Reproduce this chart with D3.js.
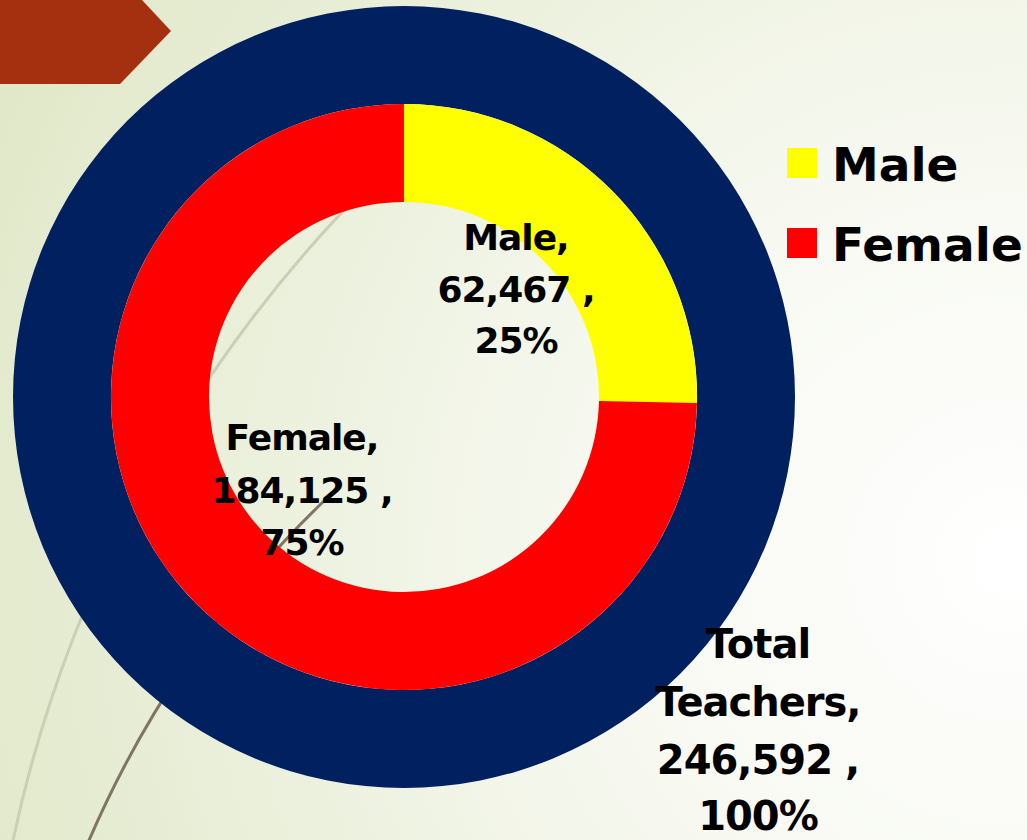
<!DOCTYPE html>
<html>
<head>
<meta charset="utf-8">
<script src="https://cdn.jsdelivr.net/npm/d3@7"></script>
<style>
  html, body { margin: 0; padding: 0; background: #fff; }
  svg { display: block; }
  text { font-family: "DejaVu Sans", sans-serif; font-weight: bold; fill: #000; }
</style>
</head>
<body>
<svg id="chart" width="1027" height="840"></svg>
<script>
// ---- data ----
const categories = ["Male", "Female"];
const teacherCounts = [62467, 184125];
const totalCategory = ["Total Teachers"];
const totalCounts = [246592];
const innerColors = ["#ffff00", "#ff0000"];
const outerColors = ["#002060"];

const W = 1027, H = 840;
const svg = d3.select("#chart");

// ---- background ----
const defs = svg.append("defs");
const rg = defs.append("radialGradient")
  .attr("id", "bg").attr("gradientUnits", "userSpaceOnUse")
  .attr("cx", 1010).attr("cy", 560).attr("r", 1150);
rg.append("stop").attr("offset", "0").attr("stop-color", "#ffffff");
rg.append("stop").attr("offset", "0.35").attr("stop-color", "#f7f9f1");
rg.append("stop").attr("offset", "1").attr("stop-color", "#dfe7c6");
svg.append("rect").attr("width", W).attr("height", H).attr("fill", "url(#bg)");

// decorative slide arcs
svg.append("path").attr("d", "M 12 845 A 1316 1316 0 0 1 450 110")
  .attr("fill", "none").attr("stroke", "#cbcfb4").attr("stroke-width", 3);
svg.append("path").attr("d", "M 87 845 A 1049 1049 0 0 1 325 500")
  .attr("fill", "none").attr("stroke", "#7e7660").attr("stroke-width", 3);

// arrow shape top-left
svg.append("path").attr("d", "M0 0 L142 0 L171 31 L120 84 L0 84 Z").attr("fill", "#a5300f");

// ---- doughnut ----
const cx = 404, cy = 397;
const g = svg.append("g").attr("transform", `translate(${cx},${cy})`);
const pie = d3.pie().sort(null).value(d => d);

const outerArc = d3.arc().innerRadius(293).outerRadius(391);
g.selectAll("path.outer").data(pie(totalCounts)).join("path")
  .attr("class", "outer").attr("d", outerArc)
  .attr("fill", (d, i) => outerColors[i]);

const innerArc = d3.arc().innerRadius(195).outerRadius(293);
g.selectAll("path.inner").data(pie(teacherCounts)).join("path")
  .attr("class", "inner").attr("d", innerArc)
  .attr("fill", (d, i) => innerColors[i]);

// ---- data labels ----
const fmt = d3.format(",");
const total = d3.sum(teacherCounts);
const pct = v => Math.round(v / total * 100) + "%";

function label(lines, x, ys, size) {
  const t = svg.append("text").attr("text-anchor", "middle")
    .style("font-size", size + "px").style("letter-spacing", "-1px");
  lines.forEach((s, i) => t.append("tspan").attr("x", x).attr("y", ys[i]).text(s));
}
const innerLabelPos = [
  { x: 516, ys: [250, 302, 353] },
  { x: 302, ys: [450, 503, 555] }
];
categories.forEach((c, i) => {
  label([c + ",", fmt(teacherCounts[i]) + " ,", pct(teacherCounts[i])],
        innerLabelPos[i].x, innerLabelPos[i].ys, 36);
});
label(["Total", "Teachers,", fmt(totalCounts[0]) + " ,", Math.round(totalCounts[0] / totalCounts[0] * 100) + "%"],
      758, [658, 716, 774, 830], 40);

// ---- legend ----
const legend = svg.append("g");
categories.forEach((c, i) => {
  const y = 148 + i * 80;
  legend.append("rect").attr("x", 787).attr("y", y).attr("width", 30).attr("height", 30)
    .attr("fill", innerColors[i]);
  legend.append("text").attr("x", 832).attr("y", y + 33)
    .style("font-size", "47px").text(c);
});
</script>
</body>
</html>
